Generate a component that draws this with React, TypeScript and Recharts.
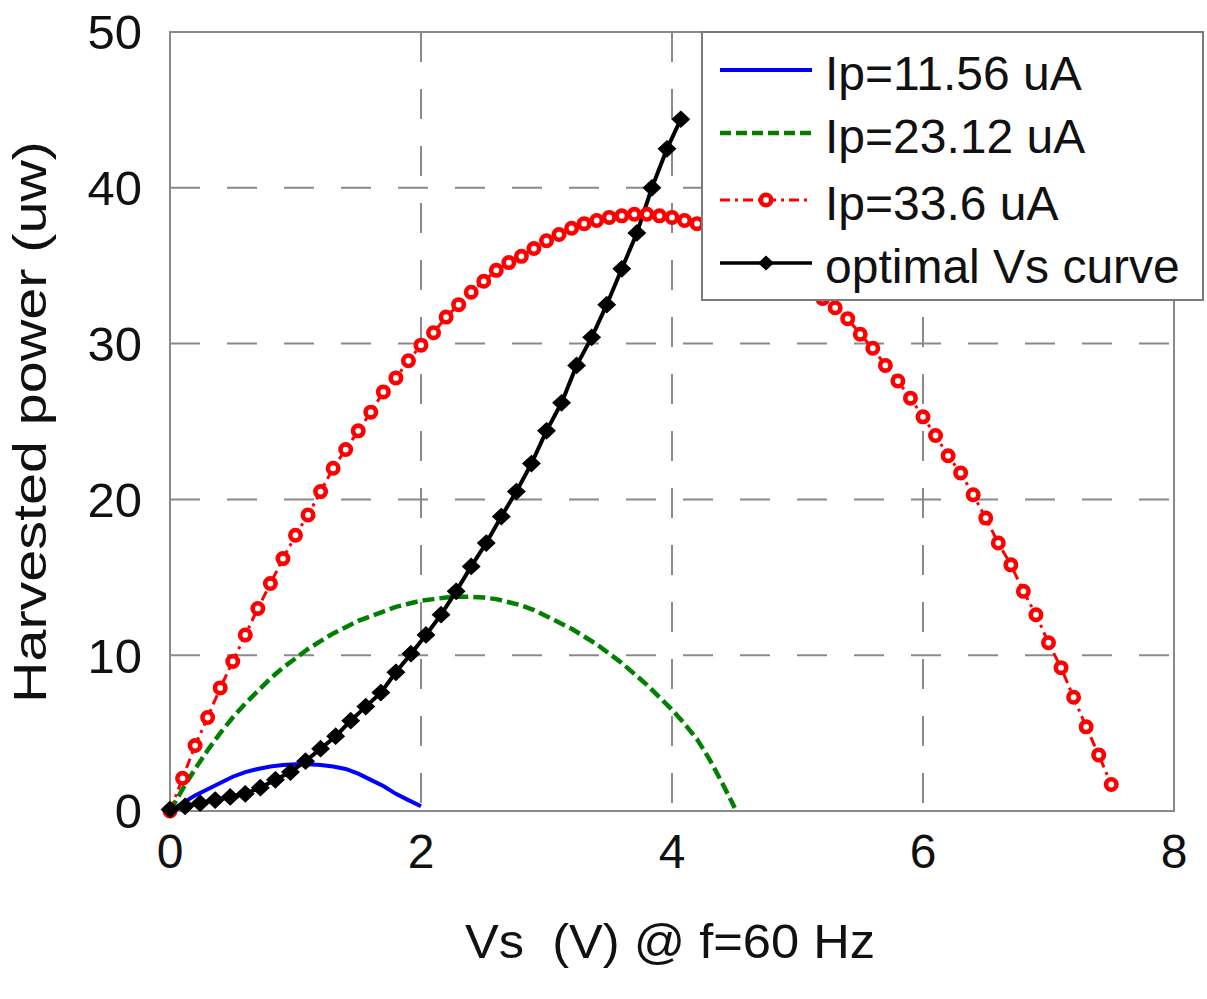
import React from 'react';
import { LineChart, Line, XAxis, YAxis, CartesianGrid, ReferenceArea, Label } from 'recharts';

const FONT = '"Liberation Sans", Arial, Helvetica, sans-serif';
const GRID = '#8a8a8a';

// axis ticks
const xTicks = [0, 2, 4, 6, 8];
const yTicks = [0, 10, 20, 30, 40, 50];

// Ip = 11.56 uA (blue, solid)
const blueVs = [0, 0.1, 0.2, 0.3, 0.4, 0.5, 0.6, 0.7, 0.8, 0.9, 1.0, 1.1, 1.2, 1.3, 1.4, 1.5, 1.6, 1.7, 1.8, 1.9, 2.0];
const bluePower = [0, 0.5, 1.0, 1.4, 1.8, 2.2, 2.5, 2.7, 2.85, 2.95, 3.0, 3.0, 2.95, 2.85, 2.7, 2.4, 2.0, 1.6, 1.1, 0.7, 0.3];

// Ip = 23.12 uA (green, dashed)
const greenVs = [
  0, 0.1, 0.2, 0.3, 0.4, 0.5, 0.6, 0.7, 0.8, 0.9, 1.0, 1.1, 1.2, 1.3, 1.4, 1.5, 1.6, 1.7, 1.8, 1.9, 2.0, 2.1, 2.2,
  2.3, 2.4, 2.5, 2.6, 2.7, 2.8, 2.9, 3.0, 3.1, 3.2, 3.3, 3.4, 3.5, 3.6, 3.7, 3.8, 3.9, 4.0, 4.1, 4.2, 4.3, 4.4, 4.5,
];
const greenPower = [
  0, 1.4, 2.7, 3.9, 5.0, 6.0, 6.9, 7.7, 8.5, 9.2, 9.8, 10.4, 10.9, 11.4, 11.8, 12.2, 12.5, 12.8, 13.1, 13.3, 13.5,
  13.6, 13.7, 13.75, 13.75, 13.7, 13.6, 13.4, 13.2, 12.9, 12.5, 12.1, 11.7, 11.2, 10.7, 10.1, 9.5, 8.8, 8.1, 7.3,
  6.5, 5.6, 4.6, 3.3, 1.8, 0.2,
];

// Ip = 33.6 uA (red, dash-dot, circles)
const redVs = [
  0, 0.1, 0.2, 0.3, 0.4, 0.5, 0.6, 0.7, 0.8, 0.9, 1.0, 1.1, 1.2, 1.3, 1.4, 1.5, 1.6, 1.7, 1.8, 1.9, 2.0, 2.1, 2.2,
  2.3, 2.4, 2.5, 2.6, 2.7, 2.8, 2.9, 3.0, 3.1, 3.2, 3.3, 3.4, 3.5, 3.6, 3.7, 3.8, 3.9, 4.0, 4.1, 4.2, 4.3, 4.4, 4.5,
  4.6, 4.7, 4.8, 4.9, 5.0, 5.1, 5.2, 5.3, 5.4, 5.5, 5.6, 5.7, 5.8, 5.9, 6.0, 6.1, 6.2, 6.3, 6.4, 6.5, 6.6, 6.7, 6.8,
  6.9, 7.0, 7.1, 7.2, 7.3, 7.4, 7.5,
];
const redPower = [
  0, 2.1, 4.2, 6.0, 7.9, 9.6, 11.3, 13.0, 14.6, 16.2, 17.7, 19.0, 20.5, 22.0, 23.2, 24.4, 25.6, 26.9, 27.8, 28.9,
  29.9, 30.7, 31.7, 32.5, 33.3, 34.0, 34.7, 35.2, 35.6, 36.1, 36.6, 37.0, 37.4, 37.7, 37.9, 38.1, 38.2, 38.3, 38.3,
  38.2, 38.1, 37.9, 37.7, 37.4, 37.1, 36.7, 36.3, 35.8, 35.3, 34.7, 34.1, 33.5, 32.9, 32.3, 31.6, 30.6, 29.7, 28.6,
  27.6, 26.5, 25.3, 24.1, 22.8, 21.7, 20.3, 18.8, 17.2, 15.8, 14.1, 12.6, 10.8, 9.2, 7.3, 5.4, 3.6, 1.7,
];

// optimal Vs curve (black, diamonds)
const optVs = [
  0, 0.12, 0.24, 0.36, 0.48, 0.6, 0.72, 0.84, 0.96, 1.08, 1.2, 1.32, 1.44, 1.56, 1.68, 1.8, 1.92, 2.04, 2.16, 2.28,
  2.4, 2.52, 2.64, 2.76, 2.88, 3.0, 3.12, 3.24, 3.36, 3.48, 3.6, 3.72, 3.84, 3.96, 4.07,
];
const optPower = [
  0.1, 0.3, 0.5, 0.7, 0.9, 1.1, 1.5, 2.0, 2.5, 3.2, 4.0, 4.8, 5.8, 6.7, 7.6, 8.9, 10.1, 11.3, 12.6, 14.1, 15.7, 17.2,
  18.9, 20.5, 22.3, 24.4, 26.2, 28.6, 30.4, 32.5, 34.8, 37.1, 40.0, 42.5, 44.4,
];

const seriesNames = ['Ip=11.56 uA', 'Ip=23.12 uA', 'Ip=33.6 uA', 'optimal Vs curve'];

const toPoints = (vs: number[], ps: number[]) => vs.map((v, i) => ({ vs: v, power: ps[i] }));

const RedCircle = (props: any) => {
  const { cx, cy, index } = props;
  if (cx == null || cy == null) return <g key={`rc-${index}`} />;
  return <circle key={`rc-${index}`} cx={cx} cy={cy} r={5.2} fill="#fff" stroke="#ff0000" strokeWidth={4.6} />;
};

const diamondPath = (cx: number, cy: number, w: number, h: number) =>
  `M${cx},${cy - h} L${cx + w},${cy} L${cx},${cy + h} L${cx - w},${cy} Z`;

const BlackDiamond = (props: any) => {
  const { cx, cy, index } = props;
  if (cx == null || cy == null) return <g key={`bd-${index}`} />;
  return <path key={`bd-${index}`} d={diamondPath(cx, cy, 8, 7.5)} fill="#000" stroke="#000" strokeWidth={2} />;
};

// legend drawn on top of the plot, like MATLAB's boxed legend
const ChartLegend = () => {
  const rows = [39, 102, 169, 232];
  return (
    <svg
      width={505}
      height={272}
      style={{ position: 'absolute', left: 701, top: 31, fontFamily: FONT }}
    >
      <rect x={1} y={1} width={501} height={268} fill="#fff" stroke="#7a7a7a" strokeWidth={2} />
      <line x1={19} x2={111} y1={rows[0]} y2={rows[0]} stroke="#0000ff" strokeWidth={4} />
      <line x1={19} x2={111} y1={rows[1]} y2={rows[1]} stroke="#008000" strokeWidth={4.5} strokeDasharray="11 5" />
      <line x1={19} x2={111} y1={rows[2]} y2={rows[2]} stroke="#ff0000" strokeWidth={3} strokeDasharray="10 5 3 5" />
      <circle cx={65} cy={rows[2]} r={5.2} fill="#fff" stroke="#ff0000" strokeWidth={4.6} />
      <line x1={19} x2={111} y1={rows[3]} y2={rows[3]} stroke="#000" strokeWidth={3.5} />
      <path d={diamondPath(65, rows[3], 8, 7.5)} fill="#000" />
      {seriesNames.map((name, i) => (
        <text key={name} x={124} y={rows[i] + 20} fontSize={48} fill="#111">
          {name}
        </text>
      ))}
    </svg>
  );
};

export default function App() {
  return (
    <div
      style={{
        position: 'absolute',
        left: 0,
        top: 0,
        width: 1207,
        height: 999,
        background: '#fff',
        fontFamily: FONT,
      }}
    >
      <LineChart width={1207} height={999} margin={{ top: 32, right: 33, bottom: 0, left: 0 }}>
        <CartesianGrid stroke={GRID} strokeWidth={2} strokeDasharray="30 27" />
        <XAxis
          dataKey="vs"
          type="number"
          domain={[0, 8]}
          ticks={xTicks}
          interval={0}
          height={188}
          tickSize={0}
          tickMargin={23}
          axisLine={{ stroke: GRID, strokeWidth: 2 }}
          tick={{ fontSize: 48, fill: '#111', fontFamily: FONT }}
        >
          <Label
            content={() => (
              <text
                x={670}
                y={958}
                textAnchor="middle"
                fontSize={48}
                fill="#111"
                textLength={410}
                lengthAdjust="spacingAndGlyphs"
                style={{ whiteSpace: 'pre', fontFamily: FONT }}
              >
                {'Vs  (V) @ f=60 Hz'}
              </text>
            )}
          />
        </XAxis>
        <YAxis
          type="number"
          domain={[0, 50]}
          ticks={yTicks}
          interval={0}
          width={170}
          tickSize={0}
          tickMargin={28}
          axisLine={{ stroke: GRID, strokeWidth: 2 }}
          tick={{ fontSize: 49, fill: '#111', fontFamily: FONT }}
        >
          <Label
            content={() => (
              <text
                x={46}
                y={422}
                transform="rotate(-90 46 422)"
                textAnchor="middle"
                fontSize={46}
                fill="#111"
                textLength={562}
                lengthAdjust="spacingAndGlyphs"
                style={{ fontFamily: FONT }}
              >
                Harvested power (uw)
              </text>
            )}
          />
        </YAxis>
        <ReferenceArea x1={0} x2={8} y1={0} y2={50} fill="none" stroke={GRID} strokeWidth={2} />
        <Line
          data={toPoints(blueVs, bluePower)}
          dataKey="power"
          name={seriesNames[0]}
          stroke="#0000ff"
          strokeWidth={4}
          dot={false}
          activeDot={false}
          isAnimationActive={false}
        />
        <Line
          data={toPoints(greenVs, greenPower)}
          dataKey="power"
          name={seriesNames[1]}
          stroke="#008000"
          strokeWidth={4.5}
          strokeDasharray="12 5"
          dot={false}
          activeDot={false}
          isAnimationActive={false}
        />
        <Line
          data={toPoints(redVs, redPower)}
          dataKey="power"
          name={seriesNames[2]}
          stroke="#ff0000"
          strokeWidth={3}
          strokeDasharray="10 5 3 5"
          dot={RedCircle}
          activeDot={false}
          isAnimationActive={false}
        />
        <Line
          data={toPoints(optVs, optPower)}
          dataKey="power"
          name={seriesNames[3]}
          stroke="#000"
          strokeWidth={4}
          dot={BlackDiamond}
          activeDot={false}
          isAnimationActive={false}
        />
      </LineChart>
      <ChartLegend />
    </div>
  );
}
